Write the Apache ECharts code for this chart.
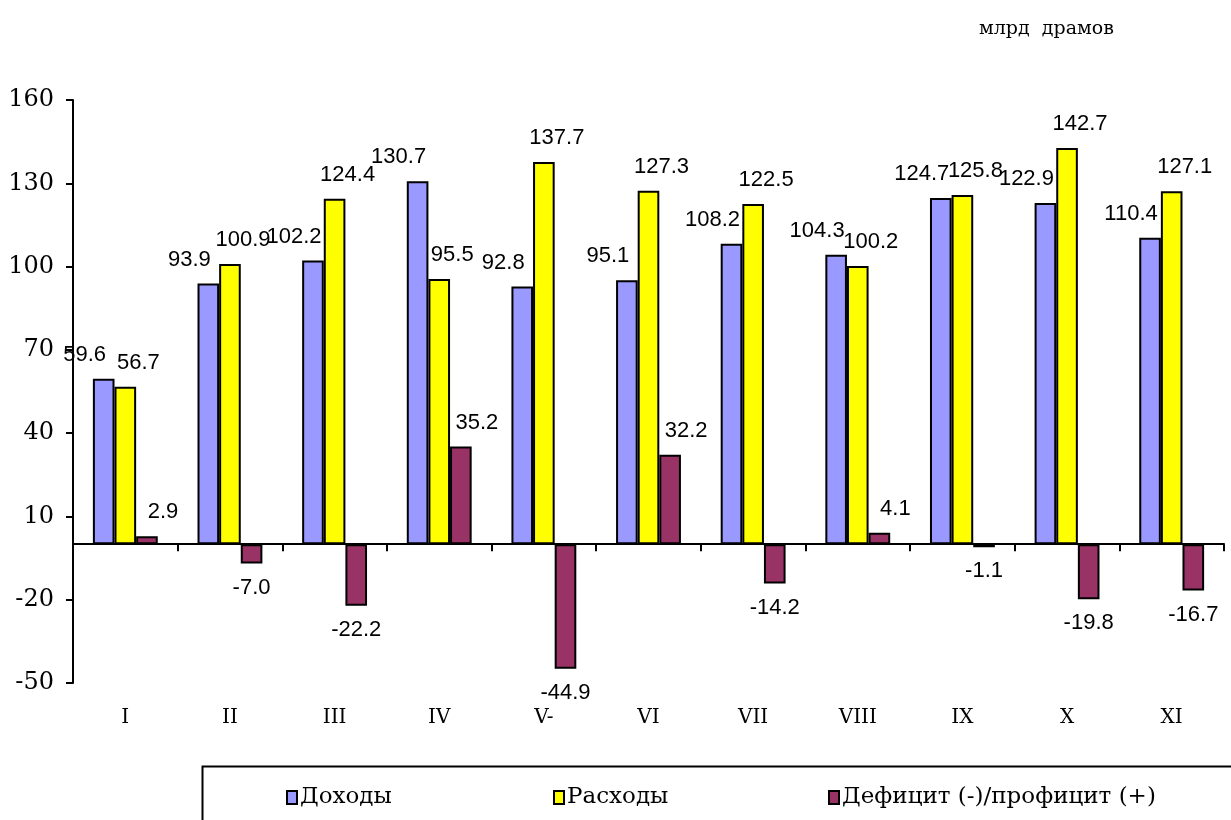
<!DOCTYPE html>
<html><head><meta charset="utf-8">
<script src="https://cdn.jsdelivr.net/npm/echarts@6/dist/echarts.min.js"></script>
<style>html,body{margin:0;padding:0;background:#fff}#c{width:1231px;height:820px}</style>
</head><body><div id="c"></div>
<script>
const categories = ['I','II','III','IV','V-','VI','VII','VIII','IX','X','XI'];
const incomeValues = [59.6, 93.9, 102.2, 130.7, 92.8, 95.1, 108.2, 104.3, 124.7, 122.9, 110.4];
const expenseValues = [56.7, 100.9, 124.4, 95.5, 137.7, 127.3, 122.5, 100.2, 125.8, 142.7, 127.1];
const balanceValues = [2.9, -7.0, -22.2, 35.2, -44.9, 32.2, -14.2, 4.1, -1.1, -19.8, -16.7];
const yTickValues = [-50, -20, 10, 40, 70, 100, 130, 160];
const seriesNames = ['Доходы', 'Расходы', 'Дефицит (-)/профицит (+)'];
const unitText = 'млрд  драмов';

const chart = echarts.init(document.getElementById('c'), null, {renderer: 'canvas'});
const serif = 'DejaVu Serif';
const sans = 'Liberation Sans';

function makeData(vals, posOffset, negOffset) {
  return vals.map(v => ({
    value: v,
    label: {
      position: v < 0 ? 'bottom' : 'top',
      offset: v < 0 ? negOffset : posOffset
    }
  }));
}
const labelBase = {show: true, color: '#000', fontFamily: sans, fontSize: 22, distance: 13,
  formatter: p => p.value.toFixed(1)};

chart.setOption({
  animation: false,
  title: {text: unitText, left: 974, top: 15,
    textStyle: {fontFamily: serif, fontSize: 19, fontWeight: 'normal', color: '#000'}},
  grid: {left: 73, right: 7, top: 100, bottom: 137, containLabel: false},
  legend: [
    {data: [seriesNames[0]], left: 281, top: 781},
    {data: [seriesNames[1]], left: 548, top: 781},
    {data: [seriesNames[2]], left: 823, top: 781}
  ].map(l => Object.assign(l, {icon: 'rect', itemWidth: 10, itemHeight: 13, itemGap: 2,
    textStyle: {fontFamily: serif, fontSize: 23, color: '#000', padding: [0,0,0,-2]}})),
  xAxis: [
    {type: 'category', data: categories, boundaryGap: true,
      axisLine: {onZero: true, lineStyle: {color: '#000', width: 2}},
      axisTick: {show: true, length: 7, lineStyle: {color: '#000', width: 2}},
      axisLabel: {show: false}, splitLine: {show: false}},
    {type: 'category', data: categories, position: 'bottom', offset: 0,
      axisLine: {show: false, onZero: false}, axisTick: {show: false},
      axisLabel: {show: true, margin: 25, fontFamily: serif, fontSize: 20, color: '#000'}}
  ],
  yAxis: {type: 'value', min: -50, max: 160,
    axisLine: {show: true, lineStyle: {color: '#000', width: 2}},
    axisTick: {show: true, length: 7, lineStyle: {color: '#000', width: 2}, customValues: yTickValues},
    axisLabel: {margin: 19, fontFamily: serif, fontSize: 24, color: '#000', customValues: yTickValues},
    splitLine: {show: false}},
  series: [
    {name: seriesNames[0], type: 'bar', xAxisIndex: 0, barGap: '0%', barCategoryGap: '38%',
      itemStyle: {color: '#9999FF', borderColor: '#000', borderWidth: 2},
      label: labelBase, data: makeData(incomeValues, [-19, 0], [-19, 0])},
    {name: seriesNames[1], type: 'bar', xAxisIndex: 0, barGap: '0%', barCategoryGap: '38%',
      itemStyle: {color: '#FFFF00', borderColor: '#000', borderWidth: 2},
      label: labelBase, data: makeData(expenseValues, [13, 0], [13, 0])},
    {name: seriesNames[2], type: 'bar', xAxisIndex: 0, barGap: '0%', barCategoryGap: '38%',
      itemStyle: {color: '#993366', borderColor: '#000', borderWidth: 2},
      label: labelBase, data: makeData(balanceValues, [16, 0], [0, 0])}
  ],
  graphic: [
    {type: 'rect', left: 200, top: 764, shape: {width: 1100, height: 100},
      style: {fill: 'none', stroke: '#000', lineWidth: 2}, silent: true}
  ]
});
</script></body></html>
